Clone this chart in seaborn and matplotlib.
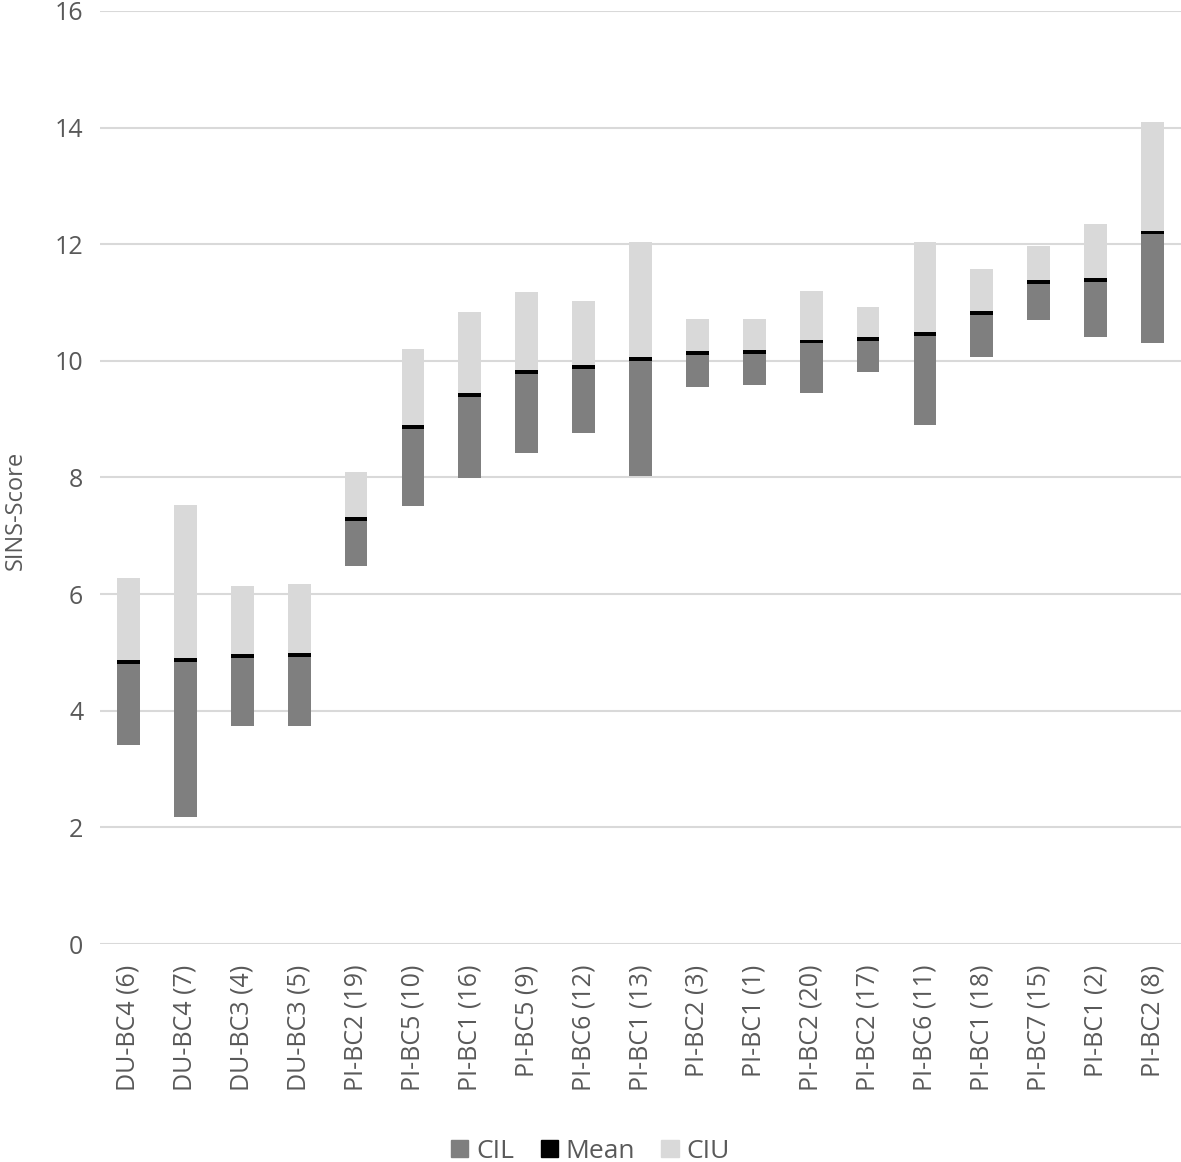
import pandas as pd
import numpy as np
import matplotlib
matplotlib.use("Agg")
import matplotlib.pyplot as plt
import seaborn as sns
from matplotlib.patches import Patch

# data
groups = ["DU-BC4 (6)", "DU-BC4 (7)", "DU-BC3 (4)", "DU-BC3 (5)", "PI-BC2 (19)",
          "PI-BC5 (10)", "PI-BC1 (16)", "PI-BC5 (9)", "PI-BC6 (12)", "PI-BC1 (13)",
          "PI-BC2 (3)", "PI-BC1 (1)", "PI-BC2 (20)", "PI-BC2 (17)", "PI-BC6 (11)",
          "PI-BC1 (18)", "PI-BC7 (15)", "PI-BC1 (2)", "PI-BC2 (8)"]
ci_low = [3.41, 2.18, 3.74, 3.74, 6.48, 7.51, 7.99, 8.42, 8.76, 8.02,
          9.55, 9.59, 9.45, 9.81, 8.90, 10.07, 10.70, 10.41, 10.31]
mean = [4.84, 4.87, 4.94, 4.96, 7.29, 8.87, 9.42, 9.81, 9.90, 10.03,
        10.13, 10.15, 10.33, 10.37, 10.46, 10.82, 11.35, 11.39, 12.20]
ci_up = [6.28, 7.53, 6.14, 6.17, 8.10, 10.20, 10.84, 11.18, 11.03, 12.04,
         10.72, 10.71, 11.20, 10.93, 12.03, 11.58, 11.97, 12.35, 14.10]

df = pd.DataFrame({"group": groups, "low": ci_low, "mean": mean, "up": ci_up})
df["cil"] = df["mean"] - df["low"]
df["ciu"] = df["up"] - df["mean"]
mark = 0.065  # thickness of the mean marker

c_cil = "#7f7f7f"
c_ciu = "#d9d9d9"
c_mean = "#000000"
txt = "#595959"

sns.set_style("white")
plt.rcParams["font.family"] = ["Open Sans", "DejaVu Sans"]

fig = plt.figure(figsize=(11.81, 11.62), dpi=100)
ax = fig.add_axes([0.0847, 0.1876, 0.9153, 0.803])

sns.barplot(data=df, x="group", y="cil", bottom=df["low"].values, color=c_cil,
            width=0.4, ax=ax, saturation=1, linewidth=0, zorder=3)
sns.barplot(data=df, x="group", y="ciu", bottom=df["mean"].values, color=c_ciu,
            width=0.4, ax=ax, saturation=1, linewidth=0, zorder=3)
sns.barplot(data=df, x="group", y=[mark] * len(df), bottom=df["mean"].values - mark / 2,
            color=c_mean, width=0.4, ax=ax, saturation=1, linewidth=0, zorder=4)

ax.set_ylim(0, 16)
ax.set_xlim(-0.5, len(groups) - 0.5)
ax.set_yticks(range(0, 17, 2))
ax.yaxis.grid(True, color="#d9d9d9", linewidth=1.5, zorder=0)
ax.set_axisbelow(True)
for s in ax.spines.values():
    s.set_visible(False)

ax.tick_params(axis="both", length=0, labelcolor=txt)
ax.tick_params(axis="y", pad=12, labelsize=18)
ax.tick_params(axis="x", pad=15, labelsize=18)
plt.setp(ax.get_xticklabels(), rotation=90)
ax.set_xlabel("")
ax.set_ylabel("SINS-Score", color=txt, fontsize=17)
ax.yaxis.set_label_coords(-0.067, 0.465)

handles = [Patch(color=c_cil, label="CIL"), Patch(color=c_mean, label="Mean"),
           Patch(color=c_ciu, label="CIU")]
leg = fig.legend(handles=handles, loc="lower center", bbox_to_anchor=(0.5, -0.022),
                 ncol=3, frameon=False, fontsize=19, handlelength=0.65, handleheight=0.65,
                 handletextpad=0.3, columnspacing=1.0)
for t in leg.get_texts():
    t.set_color(txt)

fig.savefig("out.png", dpi=100)
